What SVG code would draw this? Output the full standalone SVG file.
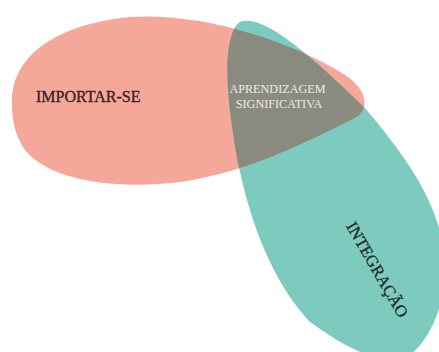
<svg xmlns="http://www.w3.org/2000/svg" width="439" height="352" viewBox="0 0 439 352">
  <style>
    .lbl { font-family: "Liberation Serif", "Times New Roman", serif; }
    .dark { stroke-width: 0.35; }
    .care { fill: #f5a899; }
    .integ { fill: #7dcbbe; }
    .core { fill: #8b8a7f; }
  </style>
  <defs>
    <path id="careShape" d="M 12,105 C 10,60 50,25 130,17 C 200,12 290,40 345,75 C 368,90 370,110 355,118 C 310,140 250,172 180,182 C 110,190 50,180 25,150 C 15,135 12,120 12,105 Z"/>
    <path id="integShape" d="M 243,21 C 265,18 300,45 365,108 C 400,150 450,210 445,280 C 440,330 410,365 390,362 C 360,355 335,340 310,322 C 280,290 255,240 240,172 C 232,135 225,80 228,55 C 230,35 235,22 243,21 Z"/>
    <clipPath id="careClip">
      <use href="#careShape"/>
    </clipPath>
  </defs>
  <rect width="439" height="352" fill="#ffffff"/>

  <g id="importar-se">
    <use href="#careShape" class="care"/>
    <text class="lbl dark" x="36" y="101.5" font-size="16" fill="#3b1f1f" stroke="#3b1f1f">IMPORTAR-SE</text>
  </g>

  <g id="integracao">
    <use href="#integShape" class="integ"/>
    <text class="lbl dark" transform="translate(372.5,272.5) rotate(60)" text-anchor="middle" font-size="16.5" fill="#1f2b2b" stroke="#1f2b2b">INTEGRAÇÃO</text>
  </g>

  <g id="aprendizagem-significativa">
    <use href="#integShape" class="core" clip-path="url(#careClip)"/>
    <text class="lbl" text-anchor="middle" font-size="12.2" fill="#ecebe4">
      <tspan x="279" y="93.3">APRENDIZAGEM</tspan>
      <tspan x="279" y="107.7">SIGNIFICATIVA</tspan>
    </text>
  </g>

  <g id="connectors"/>
</svg>
